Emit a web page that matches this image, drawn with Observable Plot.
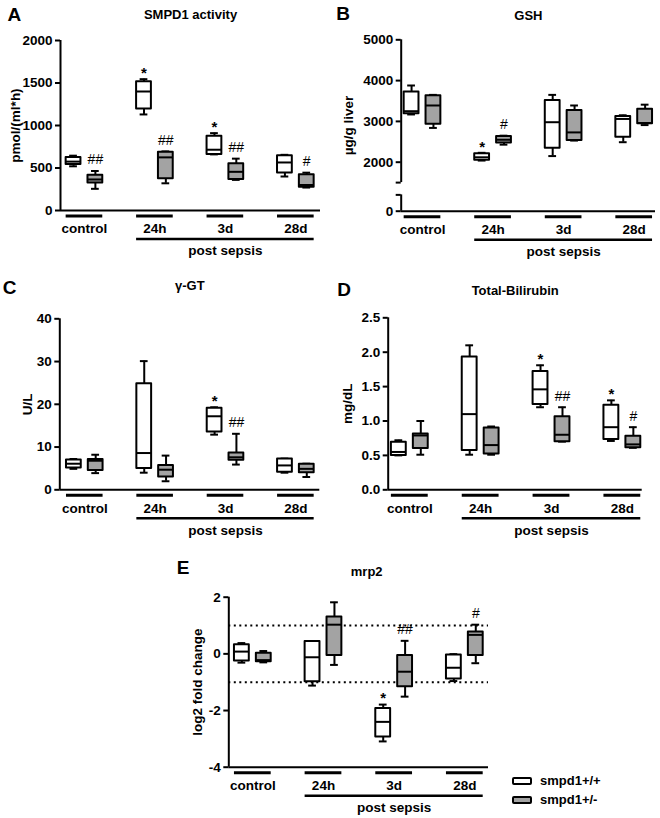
<!DOCTYPE html>
<html>
<head>
<meta charset="utf-8">
<script src="https://cdn.jsdelivr.net/npm/d3@7"></script>
<script src="https://cdn.jsdelivr.net/npm/@observablehq/plot@0.6"></script>
<style>
  html, body { margin: 0; padding: 0; background: #fff; }
  #fig { position: relative; width: 660px; height: 818px; background: #fff; overflow: hidden;
         font-family: 'Liberation Sans', Arial, sans-serif; font-weight: bold; }
  .leg { position: absolute; font-size: 13px; line-height: 14px; }
  .sw { position: absolute; width: 20px; height: 8px; box-sizing: border-box; border: 2px solid #000; border-radius: 2px; }
</style>
</head>
<body>
<div id="fig"></div>
<script>
// ---------- data ----------
const groups = ["control", "24h", "3d", "28d"];
const genotypes = ["smpd1+/+", "smpd1+/-"];
const postLabel = "post sepsis";

// five-number summaries [min, q1, median, q3, max]
// order: control +/+, control +/-, 24h +/+, 24h +/-, 3d +/+, 3d +/-, 28d +/+, 28d +/-
const smpd1Stats = [
  [520, 540, 575, 625, 645], [255, 325, 365, 415, 465],
  [1130, 1195, 1400, 1515, 1545], [320, 375, 625, 685, 695],
  [660, 660, 715, 875, 910], [360, 365, 455, 550, 610],
  [400, 440, 565, 645, 655], [270, 275, 300, 420, 445]
];
const smpd1Marks = ["", "##", "*", "##", "*", "##", "", "#"];
const smpd1Ticks = [0, 500, 1000, 1500, 2000];

const gshStats = [
  [3170, 3190, 3250, 3720, 3880], [2840, 2930, 3390, 3630, 3650],
  [2040, 2050, 2120, 2210, 2230], [2430, 2470, 2550, 2630, 2650],
  [2150, 2340, 2980, 3510, 3650], [2530, 2530, 2730, 3270, 3390],
  [2490, 2610, 3060, 3120, 3150], [2910, 2940, 2960, 3300, 3410]
];
const gshMarks = ["", "", "*", "#", "", "", "", ""];
const gshTicks = [0, 2000, 3000, 4000, 5000];
const gshBreak = [400, 1500]; // broken y axis: 0–400 and 1500–5000
const gshGap = 301;           // size of the axis gap, in data units

const ggtStats = [
  [4.9, 5.1, 6.1, 7.0, 7.2], [3.9, 4.5, 6.8, 7.1, 8.2],
  [4.0, 5.0, 8.6, 24.8, 30.1], [2.0, 3.0, 4.7, 5.7, 8.0],
  [12.9, 13.5, 17.2, 19.1, 19.3], [5.9, 6.9, 7.6, 8.6, 13.1],
  [4.0, 4.1, 5.7, 7.2, 7.3], [3.0, 4.0, 4.9, 6.0, 6.1]
];
const ggtMarks = ["", "", "", "", "*", "##", "", ""];
const ggtTicks = [0, 10, 20, 30, 40];

const biliStats = [
  [0.50, 0.50, 0.55, 0.69, 0.72], [0.51, 0.60, 0.79, 0.81, 1.00],
  [0.51, 0.57, 1.10, 1.93, 2.10], [0.51, 0.52, 0.65, 0.90, 0.92],
  [1.20, 1.24, 1.46, 1.72, 1.81], [0.70, 0.70, 0.80, 1.06, 1.20],
  [0.71, 0.73, 0.91, 1.23, 1.30], [0.61, 0.61, 0.66, 0.78, 0.91]
];
const biliMarks = ["", "", "", "", "*", "##", "*", "#"];
const biliTicks = [0, 0.5, 1, 1.5, 2, 2.5];

const mrp2Stats = [
  [-0.31, -0.25, 0.08, 0.32, 0.38], [-0.30, -0.28, -0.22, 0.02, 0.10],
  [-1.12, -0.98, -0.12, 0.44, 0.45], [-0.39, -0.06, 1.03, 1.30, 1.82],
  [-3.09, -2.93, -2.40, -1.93, -1.79], [-1.51, -1.16, -0.63, -0.06, 0.46],
  [-0.96, -0.89, -0.49, -0.04, -0.01], [-0.33, -0.06, 0.67, 0.77, 1.03]
];
const mrp2Marks = ["", "", "", "", "*", "##", "", "#"];
const mrp2Ticks = [-4, -2, 0, 2];
const mrp2Ref = [1, -1];

// ---------- layout / style constants ----------
const OFF = 0.155, HW = 0.105, CAP = 0.055, BAR = 0.26;
const GREY = "#a3a3a3";
const FONT = "'Liberation Sans', Arial, Helvetica, sans-serif";

function panel(c) {
  const ym = c.yMap || (v => v);
  const rows = c.stats.map((s, i) => ({
    g: Math.floor(i / 2), k: i % 2,
    min: ym(s[0]), q1: ym(s[1]), med: ym(s[2]), q3: ym(s[3]), max: ym(s[4]), mark: c.marks[i]
  }));
  const cx = d => d.g + (d.k ? OFF : -OFF);
  const yDom = [ym(c.yDomain[0]), ym(c.yDomain[1])];
  const y0 = yDom[0];
  const x0 = c.xDomain[0], x1 = c.xDomain[1];
  const marks = [];
  if (c.refs) marks.push(Plot.ruleY(c.refs.map(ym), {x1: x0, x2: x1, strokeWidth: 2, strokeDasharray: "2,3.5"}));
  // axis lines
  const segs = (c.axisSegs || [c.yDomain]).map(s => [ym(s[0]), ym(s[1])]);
  marks.push(Plot.ruleX(segs, {x: () => x0, y1: d => d[0], y2: d => d[1], strokeWidth: 2}));
  marks.push(Plot.ruleY([y0], {x1: x0, x2: x1, strokeWidth: 2}));
  const labelOf = new Map(c.ticks.map(t => [ym(t), c.tickFormat(t)]));
  marks.push(Plot.axisY(c.ticks.map(ym), {
    tickFormat: d => labelOf.get(d), tickSize: 5, tickPadding: 3,
    strokeWidth: 2, fontSize: 13.5, fontWeight: "bold", label: null
  }));
  // boxes
  marks.push(Plot.ruleX(rows, {x: cx, y1: "min", y2: "max", strokeWidth: 2}));
  marks.push(Plot.ruleY(rows, {y: "min", x1: d => cx(d) - CAP, x2: d => cx(d) + CAP, strokeWidth: 2}));
  marks.push(Plot.ruleY(rows, {y: "max", x1: d => cx(d) - CAP, x2: d => cx(d) + CAP, strokeWidth: 2}));
  marks.push(Plot.rect(rows, {
    x1: d => cx(d) - HW, x2: d => cx(d) + HW, y1: "q1", y2: "q3",
    fill: d => d.k ? GREY : "#fff", stroke: "#000", strokeWidth: 2, strokeLinejoin: "round"
  }));
  marks.push(Plot.ruleY(rows, {y: "med", x1: d => cx(d) - HW, x2: d => cx(d) + HW, strokeWidth: 2}));
  // significance marks
  marks.push(Plot.text(rows.filter(d => d.mark === "*"), {
    x: cx, y: "max", text: "mark", fontSize: 15, fontWeight: "bold", lineAnchor: "middle", dy: -6
  }));
  marks.push(Plot.text(rows.filter(d => d.mark && d.mark !== "*"), {
    x: cx, y: "max", text: "mark", fontSize: 14, fontWeight: "normal", lineAnchor: "middle", dy: -11
  }));
  // group bars + labels
  marks.push(Plot.ruleY(groups.map((g, i) => i), {y: () => y0, x1: d => d - BAR, x2: d => d + BAR, dy: 5.5, strokeWidth: 3}));
  marks.push(Plot.text(groups, {x: (d, i) => i, frameAnchor: "bottom", lineAnchor: "middle", dy: 18.5, text: d => d, fontSize: 13.5}));
  marks.push(Plot.ruleY([y0], {x1: 1 - BAR, x2: groups.length - 1 + BAR, dy: 28.5, strokeWidth: 2.5}));
  marks.push(Plot.text([postLabel], {x: (groups.length) / 2, frameAnchor: "bottom", lineAnchor: "middle", dy: 40.5, text: d => d, fontSize: 13.5}));
  // y label, title, panel letter
  marks.push(Plot.text([c.label], {frameAnchor: "left", textAnchor: "middle", lineAnchor: "middle", rotate: -90, dx: -c.labelDx, text: d => d, fontSize: 13.5}));
  marks.push(Plot.text([c.title], {frameAnchor: "top", lineAnchor: "middle", dy: c.titleDy, dx: c.titleDx || 0, text: d => d, fontSize: 13}));
  marks.push(Plot.text([c.letter], {frameAnchor: "top-left", textAnchor: "start", lineAnchor: "middle", dx: c.letterDx, dy: c.letterDy, text: d => d, fontSize: 19}));

  const svg = Plot.plot({
    width: c.width, height: c.height,
    marginLeft: c.ml, marginRight: c.mr, marginTop: c.mt, marginBottom: c.mb,
    x: {domain: c.xDomain, axis: null},
    y: {domain: yDom, axis: null},
    style: {fontFamily: FONT, fontWeight: "bold", fontSize: "13.5px", overflow: "visible", background: "transparent", color: "#000"},
    marks
  });
  svg.style.position = "absolute";
  svg.style.left = c.left + "px";
  svg.style.top = c.top + "px";
  return svg;
}

const fig = document.getElementById("fig");
const intFmt = d => String(d);

fig.appendChild(panel({
  left: 0, top: 0, width: 330, height: 265, ml: 60, mr: 10, mt: 40, mb: 55,
  xDomain: [-0.34, 3.35], yDomain: [0, 2000], ticks: smpd1Ticks, tickFormat: intFmt,
  stats: smpd1Stats, marks: smpd1Marks, label: "pmol/(ml*h)", labelDx: 45,
  title: "SMPD1 activity", titleDy: -26, letter: "A", letterDx: -53, letterDy: -26
}));

// broken axis: values above the break are shifted down, leaving a gap
const gshMap = v => v <= gshBreak[0] ? v : v - gshBreak[1] + gshBreak[0] + gshGap;
fig.appendChild(panel({
  left: 330, top: 0, width: 330, height: 265, ml: 70.7, mr: 5, mt: 39.3, mb: 54.3,
  xDomain: [-0.302, 3.302], yDomain: [0, 5000], yMap: gshMap,
  axisSegs: [[0, gshBreak[0]], [gshBreak[1], 5000]],
  ticks: [gshTicks[0], gshBreak[0], gshBreak[1], ...gshTicks.slice(1)],
  tickFormat: d => gshBreak.includes(d) ? "" : String(d),
  stats: gshStats, marks: gshMarks, label: "µg/g liver", labelDx: 52.4,
  title: "GSH", titleDy: -24.3, letter: "B", letterDx: -65, letterDy: -26
}));

fig.appendChild(panel({
  left: 0, top: 270, width: 330, height: 265, ml: 59.3, mr: 10.7, mt: 48.3, mb: 45.7,
  xDomain: [-0.355, 3.34], yDomain: [0, 40], ticks: ggtTicks, tickFormat: intFmt,
  stats: ggtStats, marks: ggtMarks, label: "U/L", labelDx: 32.6,
  title: "γ-GT", titleDy: -33.3, letter: "C", letterDx: -57, letterDy: -31
}));

fig.appendChild(panel({
  left: 330, top: 270, width: 330, height: 265, ml: 57.7, mr: 18.3, mt: 47.3, mb: 45.7,
  xDomain: [-0.305, 3.28], yDomain: [0, 2.5], ticks: biliTicks, tickFormat: d3.format(".1f"),
  stats: biliStats, marks: biliMarks, label: "mg/dL", labelDx: 41,
  title: "Total-Bilirubin", titleDy: -27.3, letter: "D", letterDx: -51, letterDy: -28
}));

fig.appendChild(panel({
  left: 160, top: 540, width: 340, height: 278, ml: 68.3, mr: 12, mt: 56.7, mb: 51.3,
  xDomain: [-0.34, 3.335], yDomain: [-4, 2], ticks: mrp2Ticks, tickFormat: intFmt,
  stats: mrp2Stats, marks: mrp2Marks, refs: mrp2Ref, label: "log2 fold change", labelDx: 31.6,
  title: "mrp2", titleDy: -25, titleDx: 8, letter: "E", letterDx: -52, letterDy: -29
}));

// legend
const legendY = [777, 796];
genotypes.forEach((g, i) => {
  const sw = document.createElement("div");
  sw.className = "sw";
  sw.style.left = "512px";
  sw.style.top = legendY[i] + "px";
  sw.style.background = i ? GREY : "#fff";
  fig.appendChild(sw);
  const t = document.createElement("div");
  t.className = "leg";
  t.style.left = "540px";
  t.style.top = (legendY[i] - 3) + "px";
  t.textContent = g;
  fig.appendChild(t);
});
</script>
</body>
</html>
